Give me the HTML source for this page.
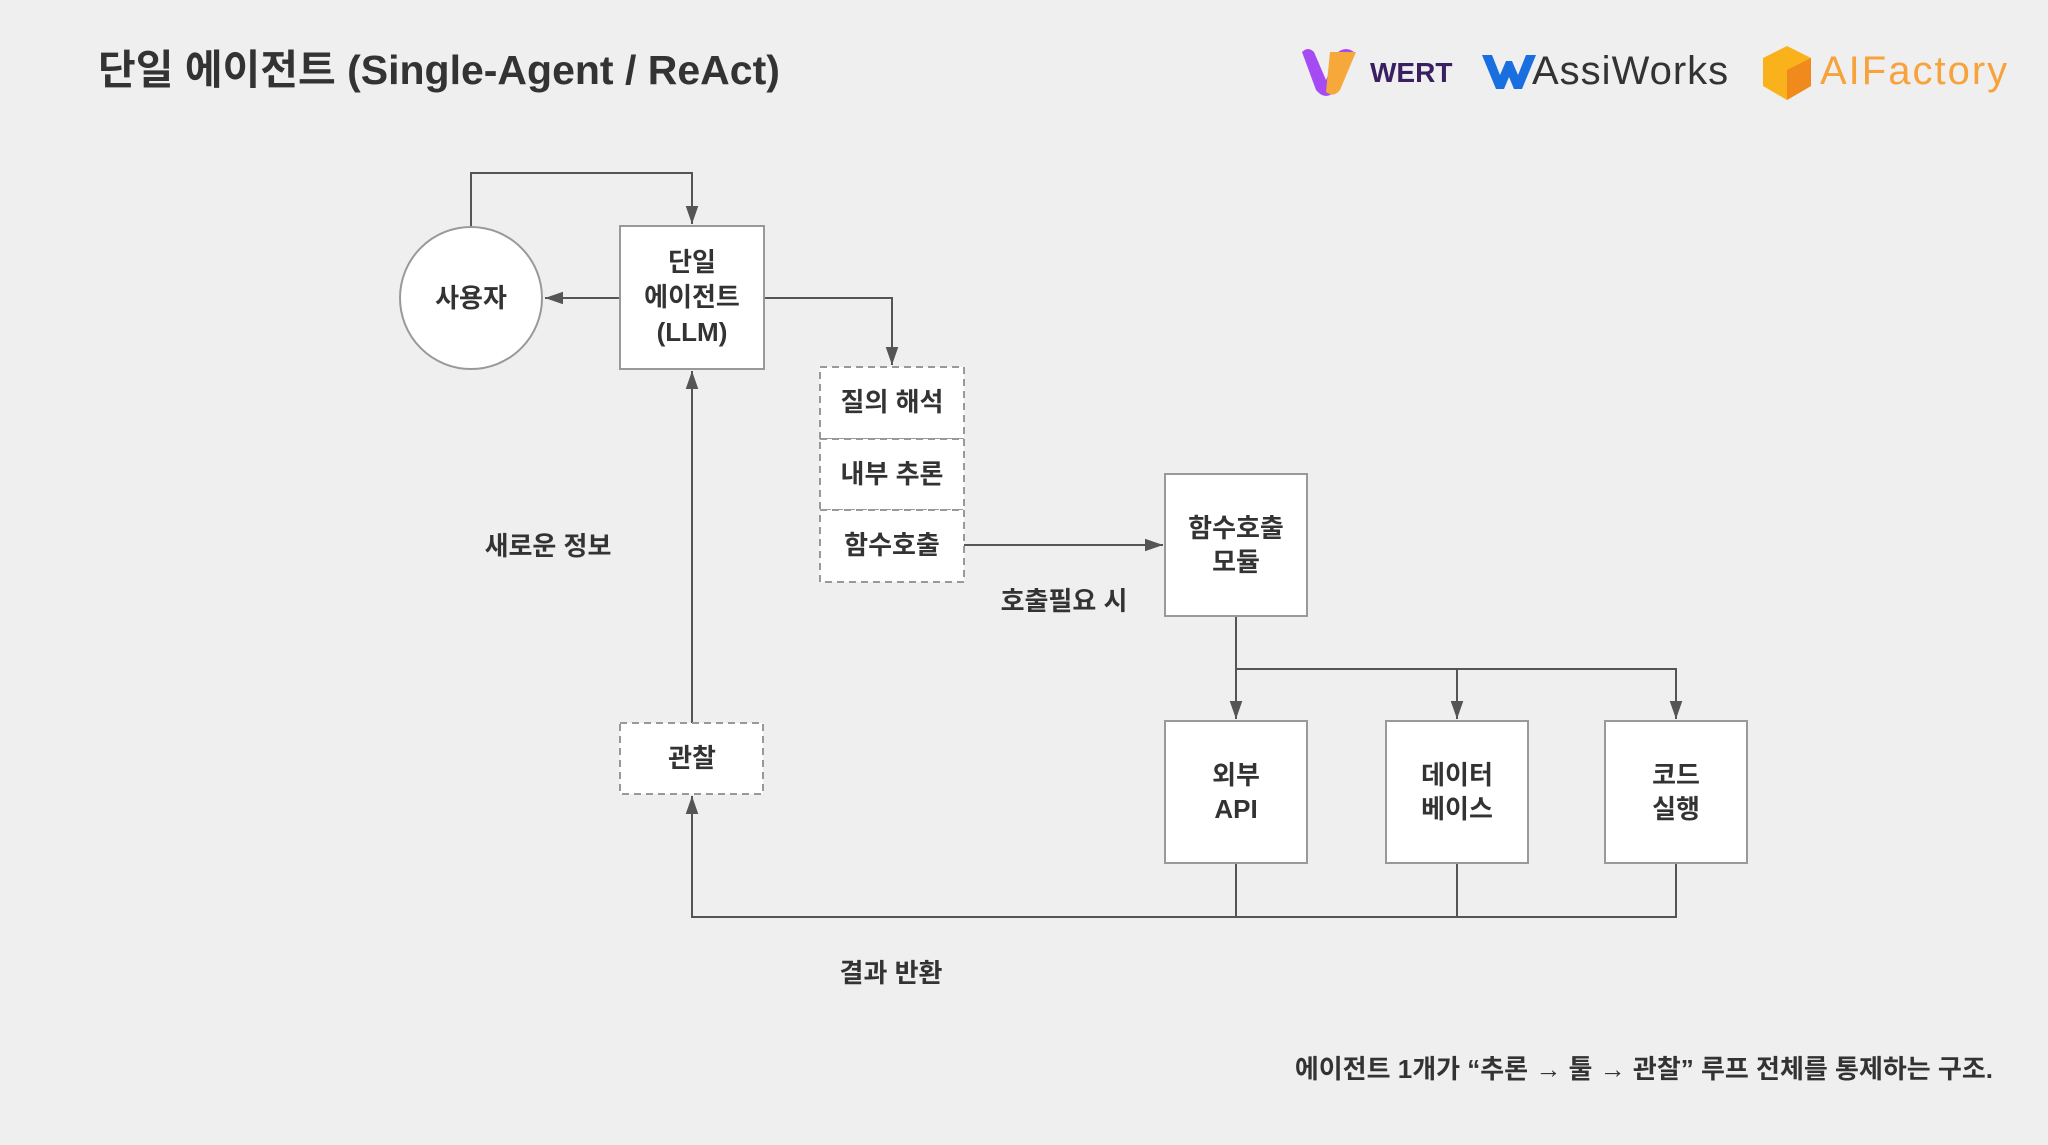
<!DOCTYPE html>
<html><head><meta charset="utf-8"><style>
body{margin:0;width:2048px;height:1140px;background:#efefef;overflow:hidden;font-family:"Liberation Sans","Noto Sans CJK KR",sans-serif;}
svg text{font-family:"Liberation Sans","Noto Sans CJK KR",sans-serif;}
</style></head><body>
<svg width="2048" height="1140" viewBox="0 0 2048 1140" xmlns="http://www.w3.org/2000/svg">
<defs>
<marker id="b" viewBox="0 0 10 10" refX="10" refY="5" markerWidth="18" markerHeight="18" orient="auto" markerUnits="userSpaceOnUse"><path d="M0,1.5L10,5L0,8.5z" fill="#555"/></marker></defs>
<text x="98" y="84" font-size="41" font-weight="bold" fill="#333">단일 에이전트 (Single-Agent / ReAct)</text>
<!-- logos -->
<path d="M1302,52 q6,-6 12,0 l12,28 l12,-28 q8,-6 16,0 l-18,38 q-10,12 -20,0 z" fill="#a64bf4"/>
<path d="M1330,52 h26 l-16,38 q-6,8 -14,2 z" fill="#f7a83a"/>
<text x="1370" y="82" font-size="28" font-weight="bold" fill="#3a2060">WERT</text>
<path d="M1482,55 h10 l8,20 l6,-14 h6 l6,14 l8,-20 h10 l-14,34 h-8 l-5,-12 l-5,12 h-8 z" fill="#1a6fe0"/>
<text x="1532" y="84" font-size="40" letter-spacing="1" fill="#333">AssiWorks</text>
<path d="M1787,46 l24,12 v28 l-24,14 l-24,-14 v-28 z" fill="#f9b21c"/>
<path d="M1787,100 l24,-14 v-28 l-24,12 z" fill="#f08a1c"/>
<text x="1820" y="84" font-size="40" letter-spacing="2" fill="#f7a23a">AIFactory</text>
<g stroke="#555" stroke-width="2" fill="none">
<path d="M471,226 V173 H692 V224" marker-end="url(#b)"/>
<path d="M620,298 H545" marker-end="url(#b)"/>
<path d="M764,298 H892 V365" marker-end="url(#b)"/>
<path d="M692,723 V371" marker-end="url(#b)"/>
<path d="M964,545 H1163" marker-end="url(#b)"/>
<path d="M1236,616 V669 H1676 V719" marker-end="url(#b)"/>
<path d="M1236,669 V719" marker-end="url(#b)"/>
<path d="M1457,669 V719" marker-end="url(#b)"/>
<path d="M1236,863 V917 H1676 V863 M1457,863 V917 M1236,917 H692 V796" marker-end="url(#b)"/>
</g>
<g fill="#fff" stroke="#999" stroke-width="2">
<circle cx="471" cy="298" r="71"/>
<rect x="620" y="226" width="144" height="143"/>
<rect x="1165" y="474" width="142" height="142"/>
<rect x="1165" y="721" width="142" height="142"/>
<rect x="1386" y="721" width="142" height="142"/>
<rect x="1605" y="721" width="142" height="142"/>
</g>
<g fill="#fff" stroke="#999" stroke-width="2" stroke-dasharray="7,5">
<rect x="820" y="367" width="144" height="72"/>
<rect x="820" y="439" width="144" height="71"/>
<rect x="820" y="510" width="144" height="72"/>
<rect x="620" y="723" width="143" height="71"/>
</g>
<g font-size="26" font-weight="bold" fill="#333" text-anchor="middle">
<text x="471" y="307">사용자</text>
<text x="692" y="271">단일</text><text x="692" y="306">에이전트</text><text x="692" y="341">(LLM)</text>
<text x="892" y="411">질의 해석</text>
<text x="892" y="483">내부 추론</text>
<text x="892" y="554">함수호출</text>
<text x="1236" y="537">함수호출</text><text x="1236" y="571">모듈</text>
<text x="692" y="767">관찰</text>
<text x="1236" y="784">외부</text><text x="1236" y="818">API</text>
<text x="1457" y="784">데이터</text><text x="1457" y="818">베이스</text>
<text x="1676" y="784">코드</text><text x="1676" y="818">실행</text>
<text x="548" y="555">새로운 정보</text>
<text x="1064" y="610">호출필요 시</text>
<text x="891" y="982">결과 반환</text>
</g>
<text x="1993" y="1078" font-size="26" font-weight="bold" fill="#333" text-anchor="end">에이전트 1개가 “추론 → 툴 → 관찰” 루프 전체를 통제하는 구조.</text>
</svg>
</body></html>
